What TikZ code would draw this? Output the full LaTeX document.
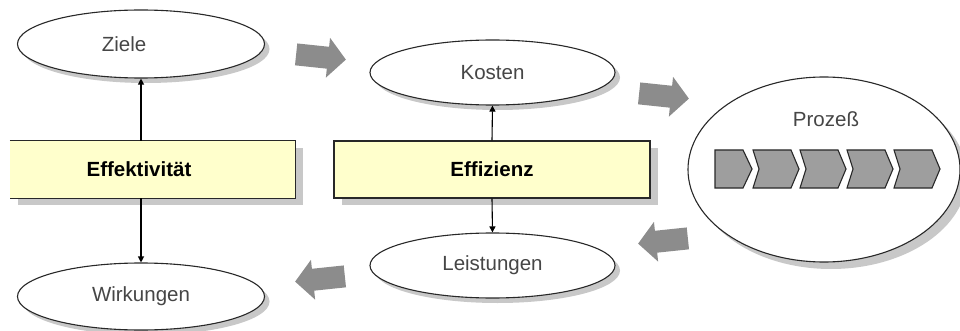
\documentclass[tikz,border=0pt]{standalone}
\usepackage{fontspec}
\setmainfont{Liberation Sans}
\usetikzlibrary{arrows.meta,shapes.geometric,shadows}

\definecolor{boxfill}{RGB}{255,255,204}
\definecolor{flowgray}{RGB}{140,140,140}
\definecolor{stepgray}{RGB}{158,158,158}
\definecolor{shadowgray}{RGB}{200,200,200}
\definecolor{labelgray}{RGB}{70,70,70}
\definecolor{edgegray}{RGB}{40,40,40}

\begin{document}
\begin{tikzpicture}[x=1pt,y=-1pt,
  every node/.style={font=\fontsize{20.5}{24}\selectfont},
  oval/.style={ellipse, draw=edgegray, line width=1.1pt, fill=white,
    inner sep=0pt, text=labelgray,
    drop shadow={shadow xshift=5pt, shadow yshift=-5pt, fill=shadowgray, opacity=1}},
  measure/.style={rectangle, fill=boxfill, inner sep=0pt,
    minimum height=57pt, font=\fontsize{20.5}{24}\selectfont\bfseries,
    drop shadow={shadow xshift=8pt, shadow yshift=-7pt, fill=shadowgray, opacity=1}},
  boxedge/.style={draw=edgegray, line width=1.4pt},
  link/.style={draw=black, line width=1.1pt, -{Triangle[length=6pt,width=6pt]}},
  stepshape/.style={fill=stepgray, draw=edgegray, line width=1.1pt, line join=miter},
  flowarrow/.pic={
    \fill[flowgray] (-25,-11) -- (7,-11) -- (7,-20) -- (25,0)
      -- (7,20) -- (7,11) -- (-25,11) -- cycle;}
]
\useasboundingbox (0,0) rectangle (960,331);
\fill[white] (0,0) rectangle (960,331);

% outcome ovals
\node[oval, minimum width=247pt, minimum height=68pt,
  label={[xshift=-17pt, text=labelgray]center:Ziele}] (ziele) at (141,44) {};
\node[oval, minimum width=247pt, minimum height=67pt] (wirk) at (141,296.5) {Wirkungen};
\node[oval, minimum width=245pt, minimum height=65pt] (kosten) at (492.5,72.5) {Kosten};
\node[oval, minimum width=245pt, minimum height=65pt] (leist) at (492.5,265.5) {Leistungen};

% process oval with its chain of steps
\node[oval, minimum width=272pt, minimum height=185pt,
  drop shadow={shadow xshift=7pt, shadow yshift=-7pt, fill=shadowgray, opacity=1}]
  (proc) at (824,169.5) {};
\node[text=labelgray, inner sep=0pt] (proctitle) at (826,119) {Prozeß};

\path[stepshape] (715,150) -- (743,150) -- (752,169) -- (743,188) -- (715,188) -- cycle;
\foreach \x in {753,800,847,894} {
  \path[stepshape] (\x,150) -- (\x+38,150) -- (\x+46,169) -- (\x+38,188)
    -- (\x,188) -- (\x+6,169) -- cycle;
}

% measure boxes
\node[measure, minimum width=285pt,
  label={[xshift=-13.5pt, font=\fontsize{20.5}{24}\selectfont\bfseries]center:Effektivität}]
  (effekt) at (152.5,169.5) {};
\draw[boxedge] (effekt.north west) -- (effekt.north east)
  -- (effekt.south east) -- (effekt.south west);
\node[measure, minimum width=316pt, draw=edgegray, line width=1.4pt]
  (effiz) at (492,169.5) {Effizienz};

% vertical links
\draw[link] (effekt.north -| ziele.south) -- (ziele.south);
\draw[link] (effekt.south -| wirk.north) -- (wirk.north);
\draw[link] (effiz.north) -- (kosten.south);
\draw[link] (effiz.south) -- (leist.north);

% flow arrows round the cycle
\pic[rotate=-6] (flowa) at (321,57) {flowarrow};
\pic[rotate=-6] (flowb) at (664,96) {flowarrow};
\pic[rotate=186] (flowc) at (663,241) {flowarrow};
\pic[rotate=186] (flowd) at (320,279) {flowarrow};
\end{tikzpicture}
\end{document}
